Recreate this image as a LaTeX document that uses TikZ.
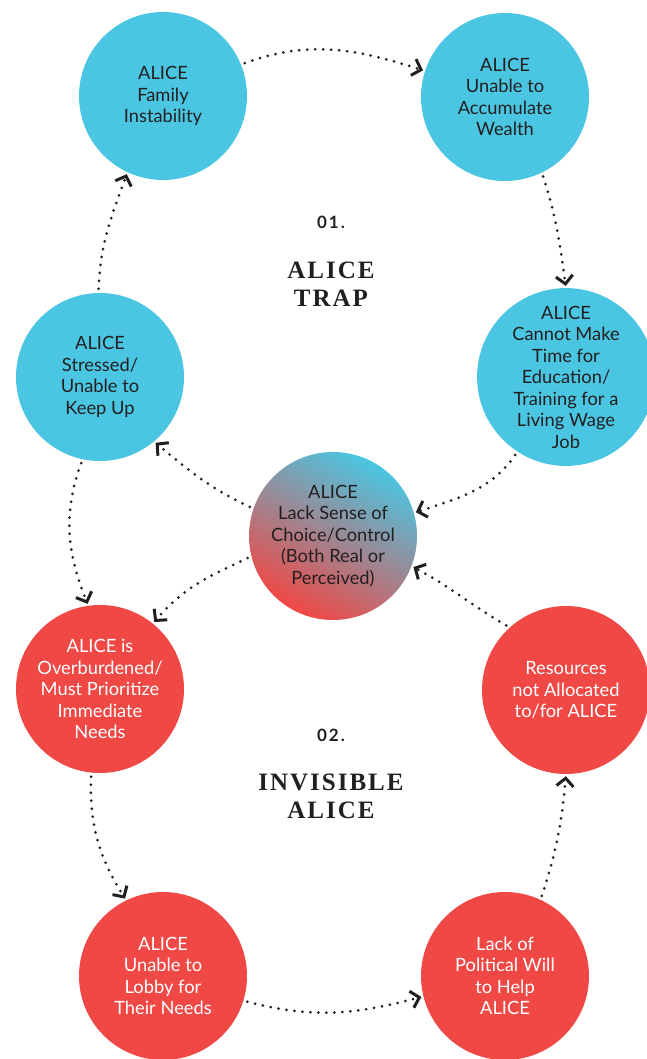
\documentclass[tikz,border=0pt]{standalone}
\usepackage{fontspec}
\setmainfont{Lato}
\newfontfamily\titlefont[LetterSpace=8]{Liberation Serif}
\newfontfamily\numfont[LetterSpace=12]{Lato}
\usetikzlibrary{calc, positioning, shapes, arrows.meta, backgrounds}
\definecolor{aliceblue}{HTML}{4AC6E2}
\definecolor{alicered}{HTML}{F04844}
\definecolor{ink}{HTML}{231F20}
\tikzstyle{circ}=[circle, minimum size=168pt, inner sep=0pt, align=center, font=\fontsize{18.3}{21.5}\selectfont]
\tikzstyle{trap}=[circ, fill=aliceblue, text=ink]
\tikzstyle{invis}=[circ, fill=alicered, text=white]
\tikzstyle{flow}=[ink, line width=3pt, line cap=round, dash pattern=on 0pt off 8pt, shorten <=4pt, shorten >=2pt, -{Straight Barb[length=8pt, width=17pt, line width=3pt]}]

\begin{document}
\begin{tikzpicture}[x=1pt, y=-1pt]
		\useasboundingbox (0,0) rectangle (646,1059);
		% loop 01
		\node[trap] (fam) at (163,96) {ALICE\\Family\\Instability};
		\node[trap] (wealth) at (505,97) {ALICE\\Unable to\\Accumulate\\Wealth};
		\node[trap] (educ) at (566,377) {ALICE\\Cannot Make\\Time for\\Education/\\Training for a\\Living Wage\\Job};
		\node[trap] (stress) at (100,377) {ALICE\\Stressed/\\Unable to\\Keep Up};
		% shared middle
		\node[circ, shading=axis, top color=aliceblue, bottom color=alicered, shading angle=-30, text=ink] (choice) at (333,536) {ALICE\\Lack Sense of\\Choice/Control\\(Both Real or\\Perceived)};
		% loop 02
		\node[invis] (burden) at (100,689) {ALICE is\\Overburdened/\\Must Prioritize\\Immediate\\Needs};
		\node[invis] (res) at (566,690) {Resources\\not Allocated\\to/for ALICE};
		\node[invis] (lobby) at (163,976) {ALICE\\Unable to\\Lobby for\\Their Needs};
		\node[invis] (will) at (505,976) {Lack of\\Political Will\\to Help\\ALICE};
		% titles
		\node[font=\numfont\bfseries\fontsize{17}{19}\selectfont, text=ink] (num1) at (331,222) {01.};
		\node[font=\titlefont\bfseries\fontsize{25}{28}\selectfont, text=ink, align=center] (title1) at (331,284) {ALICE\\TRAP};
		\node[font=\numfont\bfseries\fontsize{17}{19}\selectfont, text=ink] (num2) at (331,735) {02.};
		\node[font=\titlefont\bfseries\fontsize{25}{28}\selectfont, text=ink, align=center] (title2) at (331,796) {INVISIBLE\\ALICE};
		% arrows
		\draw[flow] (fam.22) to[out=20, in=162] (wealth.162);
		\draw[flow] (wealth.-64) to[out=-72, in=98] (educ.90);
		\draw[flow] (educ.-123) to[out=-125, in=18] (choice.16);
		\draw[flow] (choice.161) to[out=155, in=-40] (stress.-50);
		\draw[flow] (stress.-102) to[out=-110, in=112] (burden.98);
		\draw[flow] (choice.194) to[out=205, in=50] (burden.51);
		\draw[flow] (burden.-96) to[out=-92, in=122] (lobby.116);
		\draw[flow] (lobby.-17) to[out=-15, in=-165] (will.194);
		\draw[flow] (will.65) to[out=72, in=-95] (res.-90);
		\draw[flow] (res.132) to[out=150, in=-28] (choice.-21);
		\draw[flow] (stress.91) to[out=88, in=-110] (fam.-115);
	\end{tikzpicture}
\end{document}
